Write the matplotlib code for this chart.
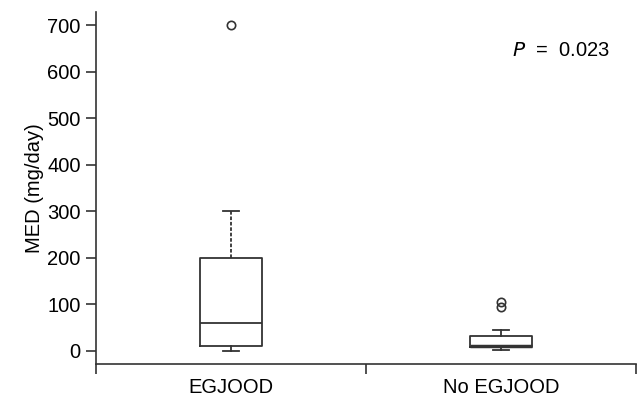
import matplotlib.pyplot as plt

plt.rcParams['font.family'] = ['Liberation Sans', 'DejaVu Sans']

groups = ['EGJOOD', 'No EGJOOD']
q1 = [10, 8]
med = [60, 11]
q3 = [200, 32]
whislo = [0, 1]
whishi = [300, 45]
fliers = [[700], [95, 105]]
p_text = r'$P$  =  0.023'

stats = []
for i in range(len(groups)):
    stats.append(dict(label=groups[i], q1=q1[i], med=med[i], q3=q3[i],
                      whislo=whislo[i], whishi=whishi[i], fliers=fliers[i]))

fig = plt.figure(figsize=(6.4, 3.99), dpi=100)
ax = fig.add_axes([0.15, 0.088, 0.844, 0.882])

col = '#333333'
bp = ax.bxp(stats, positions=[1, 2], widths=0.23, patch_artist=False,
            boxprops=dict(color=col, linewidth=1.3),
            medianprops=dict(color=col, linewidth=1.3),
            whiskerprops=dict(color=col, linewidth=1.3),
            capprops=dict(color=col, linewidth=1.3),
            flierprops=dict(marker='o', markerfacecolor='none',
                            markeredgecolor=col, markersize=6, markeredgewidth=1.2))
# upper whisker of first group is dotted
bp['whiskers'][1].set_linestyle((0, (2, 1)))
bp['medians'][1].set_linewidth(2.5)
for c in bp['caps']:
    x = c.get_xdata()
    m = (x[0] + x[1]) / 2
    c.set_xdata([m - 0.03, m + 0.03])

ax.set_xlim(0.5, 2.5)
ax.set_ylim(-28, 728)
ax.set_yticks(range(0, 701, 100))
ax.set_xticks([0.5, 1.5, 2.5])
ax.set_xticklabels([])
ax.set_xticks([1, 2], minor=True)
ax.set_xticklabels(groups, minor=True)
ax.tick_params(axis='x', which='minor', length=0, pad=10, labelsize=14.5)
ax.tick_params(axis='x', which='major', length=7, width=1.2, color=col)
ax.tick_params(axis='y', length=7, width=1.2, color=col, labelsize=14.5, pad=4)
for s in ['top', 'right']:
    ax.spines[s].set_visible(False)
for s in ['left', 'bottom']:
    ax.spines[s].set_color(col)
    ax.spines[s].set_linewidth(1.2)
ax.set_ylabel('MED (mg/day)', fontsize=14.5, labelpad=2)

ax.text(2.04, 646, p_text, fontsize=14.5, va='center', ha='left')

fig.savefig('out.png', dpi=100)
